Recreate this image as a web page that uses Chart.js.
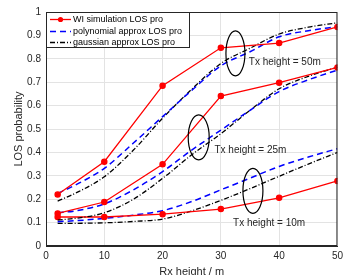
<!DOCTYPE html>
<html>
<head>
<meta charset="utf-8">
<script src="https://cdn.jsdelivr.net/npm/chart.js@4"></script>
<style>html,body{margin:0;padding:0;background:#fff}</style>
</head>
<body>
<canvas id="chart" width="347" height="275"></canvas>
<script>
// Rx heights
var rxSim = [2, 10, 20, 30, 40, 50];
var rxFit = [2, 5, 10, 15, 20, 25, 30, 35, 40, 45, 50];

// WI simulation (red, with markers)
var sim50 = [0.22, 0.36, 0.685, 0.847, 0.867, 0.936];
var sim25 = [0.139, 0.188, 0.349, 0.641, 0.698, 0.763];
var sim10 = [0.124, 0.124, 0.136, 0.158, 0.206, 0.278];

// polynomial approx (blue dashed)
var poly50 = [0.225, 0.26, 0.332, 0.44, 0.553, 0.665, 0.77, 0.83, 0.894, 0.92, 0.937];
var poly25 = [0.142, 0.15, 0.18, 0.24, 0.318, 0.41, 0.495, 0.58, 0.66, 0.71, 0.752];
var poly10 = [0.104, 0.108, 0.118, 0.132, 0.151, 0.19, 0.24, 0.29, 0.34, 0.38, 0.416];

// gaussian approx (black dash-dot)
var gauss50 = [0.192, 0.225, 0.296, 0.41, 0.546, 0.67, 0.78, 0.845, 0.906, 0.935, 0.954];
var gauss25 = [0.111, 0.118, 0.142, 0.2, 0.289, 0.39, 0.48, 0.58, 0.672, 0.725, 0.764];
var gauss10 = [0.097, 0.097, 0.099, 0.105, 0.115, 0.15, 0.195, 0.245, 0.298, 0.35, 0.4];

var legendNames = ["WI simulation LOS pro", "polynomial approx LOS pro", "gaussian approx LOS pro"];

var FONT = "'Liberation Sans', Arial, sans-serif";
var RED = "#ff0000", BLUE = "#0000ff", BLACK = "#000000";
var DASH = [6, 4], DASHDOT = [5, 2, 1, 2];

function pts(xs, ys) {
  return ys.map(function (y, i) { return { x: xs[i], y: y }; });
}

function simSet(ys) {
  return {
    data: pts(rxSim, ys), borderColor: RED, backgroundColor: RED,
    borderWidth: 1.3, pointRadius: 2.6, pointHoverRadius: 2.6, tension: 0
  };
}
function fitSet(ys, color, dash, width) {
  return {
    data: pts(rxFit, ys), borderColor: color, borderWidth: width,
    borderDash: dash, pointRadius: 0, cubicInterpolationMode: "monotone"
  };
}

// ellipses and notes (data coords)
var notes = [
  { ex: 32.5, ey: 0.823, rx: 9.5, ry: 22.5, text: "Tx height = 50m", tx: 34.8, ty: 0.787 },
  { ex: 26.2, ey: 0.464, rx: 10.5, ry: 22.5, text: "Tx height = 25m", tx: 28.9, ty: 0.41 },
  { ex: 35.5, ey: 0.236, rx: 10, ry: 22.5, text: "Tx height = 10m", tx: 32.1, ty: 0.097 }
];

var annot = {
  id: "annot",
  afterDatasetsDraw: function (chart) {
    var ctx = chart.ctx, xs = chart.scales.x, ys = chart.scales.y, a = chart.chartArea;
    ctx.save();
    // frame
    ctx.strokeStyle = "#262626";
    ctx.lineWidth = 1;
    ctx.strokeRect(a.left + 0.5, a.top + 0.5, a.right - a.left - 1, a.bottom - a.top - 1);
    // ellipses + labels
    notes.forEach(function (n) {
      ctx.beginPath();
      ctx.strokeStyle = BLACK;
      ctx.lineWidth = 1.2;
      ctx.ellipse(xs.getPixelForValue(n.ex), ys.getPixelForValue(n.ey), n.rx, n.ry, 0, 0, Math.PI * 2);
      ctx.stroke();
      ctx.fillStyle = "#262626";
      ctx.font = "10px " + FONT;
      ctx.textBaseline = "middle";
      ctx.textAlign = "left";
      ctx.fillText(n.text, xs.getPixelForValue(n.tx), ys.getPixelForValue(n.ty));
    });
    // legend
    var x0 = a.left + 0.5, y0 = a.top + 0.5, w = 143, h = 35;
    ctx.fillStyle = "#fff";
    ctx.fillRect(x0, y0, w, h);
    ctx.strokeStyle = "#262626";
    ctx.lineWidth = 1;
    ctx.strokeRect(x0, y0, w, h);
    var rows = [a.top + 7.5, a.top + 19.5, a.top + 30.5];
    var styles = [[RED, [], 1.3], [BLUE, DASH, 1.5], [BLACK, DASHDOT, 1.3]];
    rows.forEach(function (yy, i) {
      ctx.beginPath();
      ctx.setLineDash(styles[i][1]);
      ctx.strokeStyle = styles[i][0];
      ctx.lineWidth = styles[i][2];
      ctx.moveTo(a.left + 4, yy);
      ctx.lineTo(a.left + 25, yy);
      ctx.stroke();
      ctx.setLineDash([]);
      if (i === 0) {
        ctx.beginPath();
        ctx.fillStyle = RED;
        ctx.arc(a.left + 14.5, yy, 2.6, 0, Math.PI * 2);
        ctx.fill();
      }
      ctx.fillStyle = BLACK;
      ctx.font = "9px " + FONT;
      ctx.textBaseline = "middle";
      ctx.fillText(legendNames[i], a.left + 27, yy);
    });
    ctx.restore();
  }
};

var ctx = document.getElementById("chart").getContext("2d");
var losChart = new Chart(ctx, {
  type: "line",
  data: {
    datasets: [
      simSet(sim50), fitSet(poly50, BLUE, DASH, 1.5), fitSet(gauss50, BLACK, DASHDOT, 1.3),
      simSet(sim25), fitSet(poly25, BLUE, DASH, 1.5), fitSet(gauss25, BLACK, DASHDOT, 1.3),
      simSet(sim10), fitSet(poly10, BLUE, DASH, 1.5), fitSet(gauss10, BLACK, DASHDOT, 1.3)
    ]
  },
  options: {
    responsive: false,
    animation: false,
    devicePixelRatio: 1,
    layout: { padding: { top: 12, right: 4, left: 0, bottom: 0 } },
    plugins: { legend: { display: false }, tooltip: { enabled: false } },
    scales: {
      x: {
        type: "linear", min: 0, max: 50,
        ticks: { stepSize: 10, padding: 4, color: "#262626", font: { family: FONT, size: 10 } },
        grid: { color: "#e3e3e3", drawTicks: false },
        border: { color: "#262626" },
        title: { display: true, text: "Rx height / m", color: "#262626",
          font: { family: FONT, size: 11, lineHeight: 0.6 }, padding: 0 },
        afterFit: function (s) { s.height = 29; }
      },
      y: {
        min: 0, max: 1,
        ticks: { stepSize: 0.1, padding: 5, color: "#262626", font: { family: FONT, size: 10 },
          callback: function (v) { return String(+v.toFixed(1)); } },
        grid: { color: "#e3e3e3", drawTicks: false },
        border: { color: "#262626" },
        title: { display: true, text: "LOS probability", color: "#262626",
          font: { family: FONT, size: 11 }, padding: { top: 12, bottom: 0 } },
        afterFit: function (s) { s.width = 46; }
      }
    }
  },
  plugins: [annot]
});
</script>
</body>
</html>
